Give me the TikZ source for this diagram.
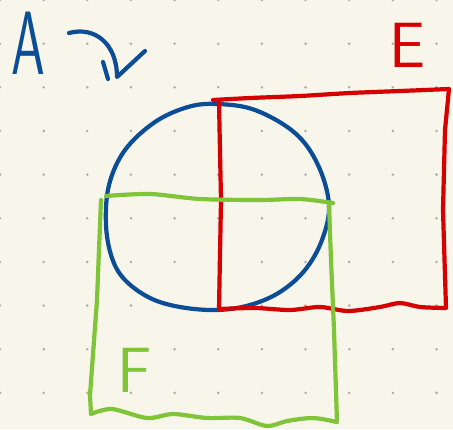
\documentclass[tikz,border=0pt]{standalone}
\usepackage{xcolor}
\usepackage{tikz}
\usetikzlibrary{positioning,calc}

\definecolor{paper}{HTML}{F8F6EA}
\definecolor{dotgray}{HTML}{ABABAB}
\definecolor{penblue}{HTML}{0B4D96}
\definecolor{penred}{HTML}{D60000}
\definecolor{pengreen}{HTML}{80C43A}

\begin{document}
\begin{tikzpicture}[
    x=1pt, y=-1pt,
    every node/.style={font=\sffamily},
    pen/.style={line width=4.2pt, line cap=round, line join=round},
    biglabel/.style={inner sep=0pt, font=\sffamily\fontsize{64}{64}\selectfont},
]

% --- Paper and dots ---
\fill[paper] (0,0) rectangle (453,429);
\useasboundingbox (0,0) rectangle (453,429);
\foreach \i in {0,...,10}
  \foreach \j in {0,...,9}
    \fill[dotgray] (43.65*\i,43.65*\j) circle (1.4);

% --- Label A and its hook ---
\node[biglabel, text=penblue, font=\sffamily\fontsize{90}{90}\selectfont]
    (labA) at (28,43) {\scalebox{0.6}[1]{A}};
\coordinate (hookstart) at (69,33);
\coordinate (hookend) at (117,77);
\draw[pen, penblue] (hookstart) .. controls (95,26) and (117,44) .. (hookend)
    -- (145,51);
\draw[pen, penblue] (103,62) -- (108,79);

% --- Circle ---
\draw[pen, penblue] plot[smooth cycle, tension=0.6] coordinates {
    (217,104) (255,110) (295,133) (318,165) (329,205) (322,240)
    (305,270) (280,292) (250,305) (217,310) (180,307) (150,298)
    (125,280) (112,258) (106,225) (109,185) (125,150) (155,122)
    (188,107)};

% --- Red box E ---
\draw[pen, penred] plot[smooth, tension=0.4] coordinates {
    (213,100) (250,98) (300,96) (350,93) (400,91) (449,89)}
    -- (445,130) -- (443,210) -- (446,308)
    plot[smooth, tension=0.5] coordinates {
    (446,308) (420,307) (400,303) (380,307) (348,311) (320,307)
    (290,310) (255,308) (219,309)}
    -- (221,200) -- (219,102);
\node[biglabel, text=penred] (labE) at (407,45) {E};

% --- Green box F ---
\draw[pen, pengreen] plot[smooth, tension=0.5] coordinates {
    (106,196) (150,194) (200,199) (260,200) (300,199) (333,203)};
\draw[pen, pengreen] (101,200) -- (97,300) -- (90,395) -- (91,414)
    plot[smooth, tension=0.5] coordinates {
    (91,414) (112,409) (147,418) (173,414) (207,418) (240,418)
    (267,426) (287,421) (313,418) (337,422)}
    -- (334,330) -- (331,260) -- (329,205);
\node[biglabel, text=pengreen] (labF) at (135,370) {F};

\end{tikzpicture}
\end{document}
